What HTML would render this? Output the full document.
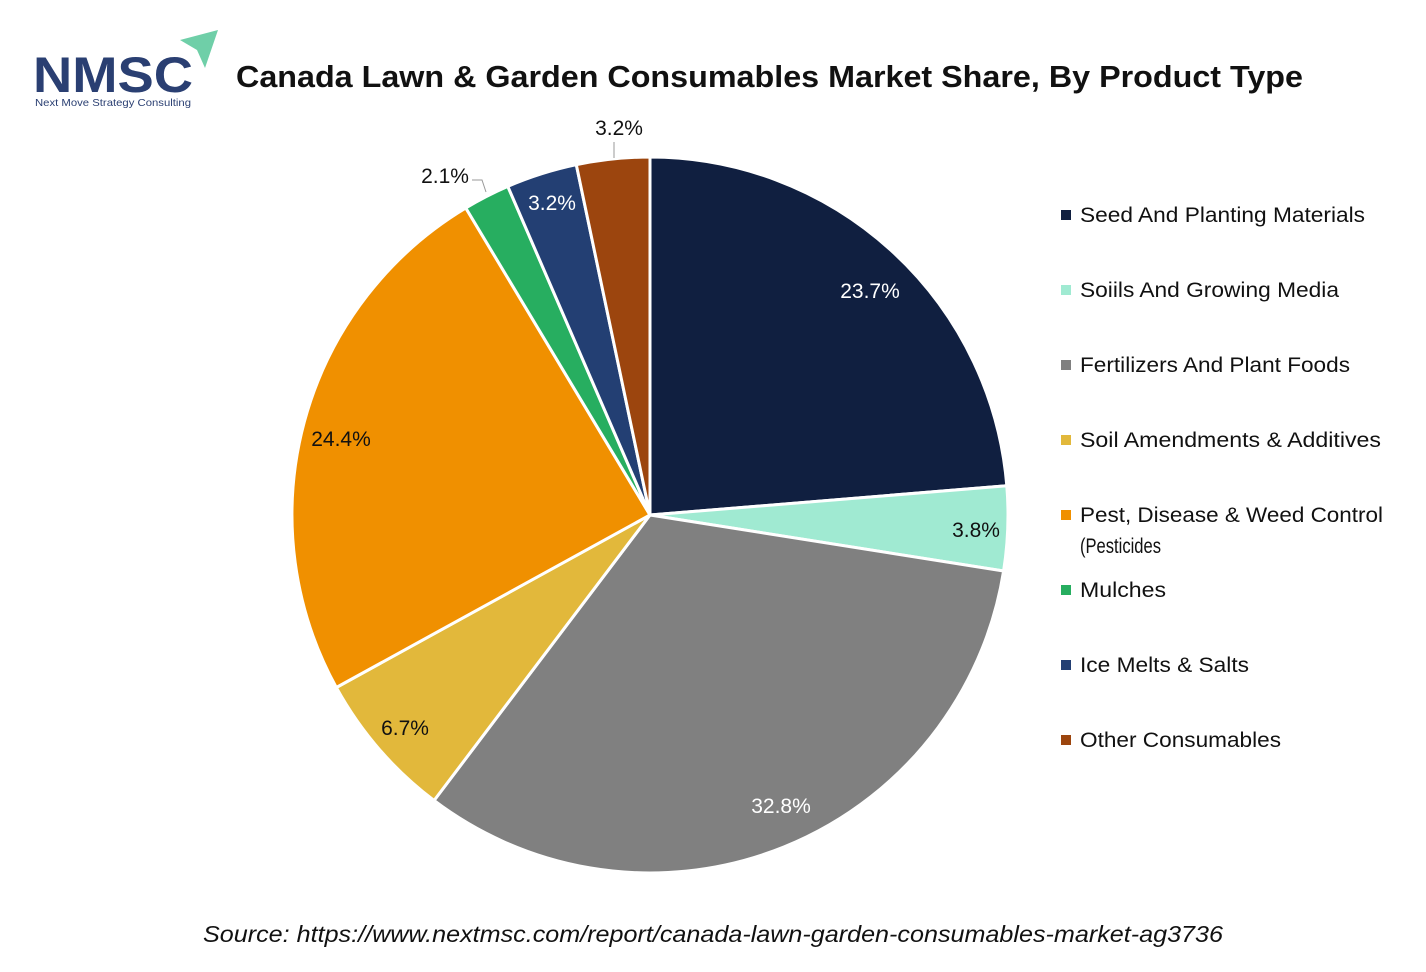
<!DOCTYPE html>
<html><head><meta charset="utf-8"><style>
body{margin:0;background:#fff;}
svg text{font-family:"Liberation Sans",sans-serif;}
</style></head><body>
<svg width="1426" height="967" viewBox="0 0 1426 967" xmlns="http://www.w3.org/2000/svg">
<rect width="1426" height="967" fill="#fff"/>
<!-- logo -->
<text x="33" y="92" font-size="50" font-weight="bold" fill="#2a3f72" textLength="160" lengthAdjust="spacingAndGlyphs">NMSC</text>
<polygon points="180,40 218,30 205,68 197,50" fill="#6fcfa8"/>
<text x="35" y="106" font-size="10.5" fill="#2a3f72" textLength="156" lengthAdjust="spacingAndGlyphs">Next Move Strategy Consulting</text>
<text x="236" y="87" font-size="31" font-weight="bold" fill="#111" textLength="1067" lengthAdjust="spacingAndGlyphs">Canada Lawn &amp; Garden Consumables Market Share, By Product Type</text>
<g stroke="#fff" stroke-width="3" stroke-linejoin="round">
<path d="M650,515 L650,157 A358,358 0 0 1 1006.8,485.8 Z" fill="#101f40"/>
<path d="M650,515 L1006.8,485.8 A358,358 0 0 1 1003.6,571.0 Z" fill="#a0ead2"/>
<path d="M650,515 L1003.6,571.0 A358,358 0 0 1 434.05,800.5 Z" fill="#808080"/>
<path d="M650,515 L434.05,800.5 A358,358 0 0 1 336.3,687.5 Z" fill="#e2b83b"/>
<path d="M650,515 L336.3,687.5 A358,358 0 0 1 465.8,208.0 Z" fill="#f09000"/>
<path d="M650,515 L465.8,208.0 A358,358 0 0 1 507.8,186.4 Z" fill="#27ae60"/>
<path d="M650,515 L507.8,186.4 A358,358 0 0 1 576.3,164.7 Z" fill="#233f73"/>
<path d="M650,515 L576.3,164.7 A358,358 0 0 1 650,157 Z" fill="#9c450e"/>
</g>
<g font-size="21">
<text x="870" y="298" fill="#fff" text-anchor="middle">23.7%</text>
<text x="976" y="537" fill="#111" text-anchor="middle">3.8%</text>
<text x="781" y="813" fill="#fff" text-anchor="middle">32.8%</text>
<text x="405" y="735" fill="#111" text-anchor="middle">6.7%</text>
<text x="341" y="446" fill="#111" text-anchor="middle">24.4%</text>
<text x="445" y="183" fill="#111" text-anchor="middle">2.1%</text>
<text x="552" y="210" fill="#fff" text-anchor="middle">3.2%</text>
<text x="619" y="135" fill="#111" text-anchor="middle">3.2%</text>
</g>
<polyline points="472,180 482,180 486,192" fill="none" stroke="#999" stroke-width="1"/>
<line x1="614" y1="142" x2="614" y2="158" stroke="#999" stroke-width="1"/>
<g font-size="21" fill="#111" lengthAdjust="spacingAndGlyphs">
<rect x="1061" y="210" width="10" height="10" fill="#101f40"/><text x="1080" y="222" textLength="285" lengthAdjust="spacingAndGlyphs">Seed And Planting Materials</text>
<rect x="1061" y="285" width="10" height="10" fill="#a0ead2"/><text x="1080" y="297" textLength="259" lengthAdjust="spacingAndGlyphs">Soiils And Growing Media</text>
<rect x="1061" y="360" width="10" height="10" fill="#808080"/><text x="1080" y="372" textLength="270" lengthAdjust="spacingAndGlyphs">Fertilizers And Plant Foods</text>
<rect x="1061" y="435" width="10" height="10" fill="#e2b83b"/><text x="1080" y="447" textLength="301" lengthAdjust="spacingAndGlyphs">Soil Amendments &amp; Additives</text>
<rect x="1061" y="510" width="10" height="10" fill="#f09000"/><text x="1080" y="522" textLength="303" lengthAdjust="spacingAndGlyphs">Pest, Disease &amp; Weed Control</text><text x="1080" y="553" textLength="81" lengthAdjust="spacingAndGlyphs">(Pesticides</text>
<rect x="1061" y="585" width="10" height="10" fill="#27ae60"/><text x="1080" y="597" textLength="86" lengthAdjust="spacingAndGlyphs">Mulches</text>
<rect x="1061" y="660" width="10" height="10" fill="#233f73"/><text x="1080" y="672" textLength="169" lengthAdjust="spacingAndGlyphs">Ice Melts &amp; Salts</text>
<rect x="1061" y="735" width="10" height="10" fill="#9c450e"/><text x="1080" y="747" textLength="201" lengthAdjust="spacingAndGlyphs">Other Consumables</text>
</g>
<text x="203" y="942" font-size="23" font-style="italic" fill="#111" textLength="1020" lengthAdjust="spacingAndGlyphs">Source: https://www.nextmsc.com/report/canada-lawn-garden-consumables-market-ag3736</text>
</svg>
</body></html>
